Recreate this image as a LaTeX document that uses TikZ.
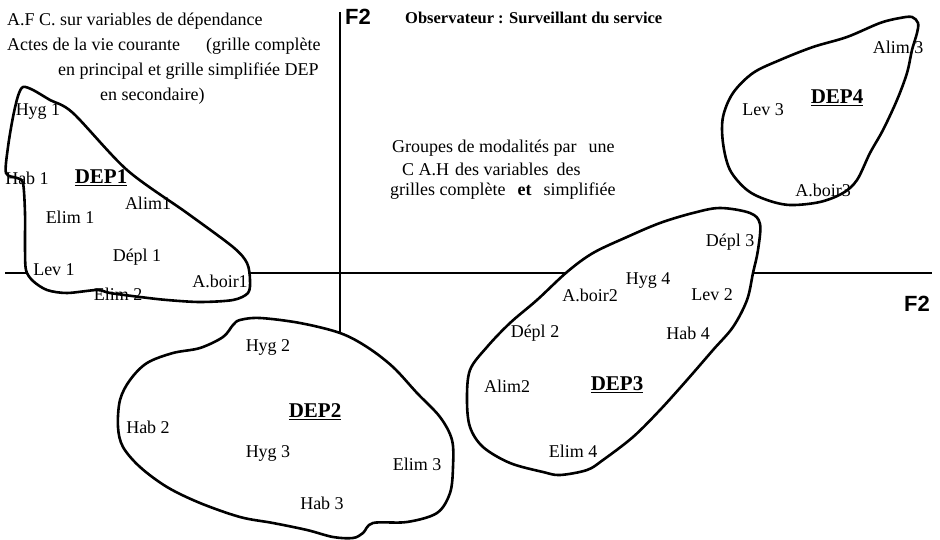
\documentclass[tikz,border=0pt]{standalone}
\usepackage{fontspec}
\setmainfont{Liberation Serif}
\newfontfamily\fsans{Liberation Sans}
\begin{document}
\begin{tikzpicture}[x=1pt,y=-1pt,
  lbl/.style={inner sep=0pt, font=\fontsize{18}{21}\selectfont},
  grp/.style={inner sep=0pt, font=\fontsize{21}{24}\selectfont\bfseries},
  txt/.style={inner sep=0pt, anchor=west, font=\fontsize{18}{21}\selectfont},
  ttl/.style={inner sep=0pt, anchor=west, font=\fontsize{16.5}{20}\selectfont\bfseries},
  axisline/.style={line width=1.6pt},
  blob/.style={line width=2.6pt, fill=white, line join=round},
  ftwo/.style={inner sep=0pt, font=\fsans\bfseries\fontsize{22}{24}\selectfont}]
\useasboundingbox (0,0) rectangle (940,540);

% axes
\coordinate (vtop) at (340,12);
\coordinate (vbot) at (340,334);
\coordinate (hleft) at (5,273);
\coordinate (hright) at (932,273);
\draw[axisline] (vtop) -- (vbot);
\draw[axisline] (hleft) -- (hright);

% DEP1 blob
\draw[blob] plot[smooth cycle, tension=0.5] coordinates {
 (23,87) (33,90) (50,100) (73,113) (127,170) (187,213) (233,247) (247,263)
 (250,280) (248,293) (233,300) (200,302) (167,300) (140,297) (110,293) (97,290)
 (67,293) (47,290) (33,281) (26,270) (25,247) (25,213) (23,183) (17,178)
 (6,173) (8,147) (13,117) (18,96)};

% DEP2 blob
\draw[blob] plot[smooth cycle, tension=0.55] coordinates {
 (240,320) (260,318) (300,323) (340,333) (367,347) (393,367) (417,393) (440,417)
 (452,440) (453,467) (450,493) (437,513) (407,522) (373,523) (363,533) (353,538)
 (333,537) (307,530) (273,523) (240,517) (200,503) (167,487) (140,467) (123,447)
 (118,427) (120,400) (130,380) (147,363) (173,353) (200,348) (223,337) (233,325)};

% DEP3 blob
\draw[blob] plot[smooth cycle, tension=0.55] coordinates {
 (720,208) (750,213) (760,224) (758,250) (753,273) (747,300) (733,327) (713,350)
 (687,380) (660,410) (633,437) (603,460) (587,470) (560,475) (543,472) (510,463)
 (483,447) (470,427) (467,400) (470,370) (487,347) (510,323) (537,300) (567,272)
 (593,253) (627,237) (660,223) (693,213)};

% DEP4 blob
\draw[blob] plot[smooth cycle, tension=0.55] coordinates {
 (912,17) (918,23) (917,33) (912,50) (907,73) (897,100) (883,130) (870,153)
 (857,180) (843,193) (820,202) (790,205) (767,200) (747,190) (730,170) (723,143)
 (723,117) (733,93) (753,73) (780,60) (813,47) (847,37) (880,23) (900,18)};

% titles
\node[txt] (t1) at (7,21) {A.F C. sur variables de dépendance};
\node[txt] (t2) at (7,46) {Actes de la vie courante\hspace*{26pt}(grille complète};
\node[txt] (t3) at (58,71) {en principal et grille simplifiée DEP};
\node[txt] (t4) at (100,96) {en secondaire)};
\node[ftwo, anchor=west] (f2top) at (345,17) {F2};
\node[ttl] (obs) at (405,18) {Observateur : Surveillant du service};
\node[ftwo] (f2right) at (917,304) {F2};

\node[txt] (g1) at (392,148) {Groupes de modalités par\hspace*{12pt}une};
\node[txt] (g2) at (402,169) {C A.H\hspace*{6pt}des variables\hspace*{8pt}des};
\node[txt] (g3) at (390,191) {grilles complète\hspace*{12pt}\textbf{et}\hspace*{12pt}simplifiée};

% DEP1 labels
\node[lbl] (hyg1) at (38,112) {Hyg 1};
\node[lbl] (hab1) at (27,178) {Hab 1};
\node[grp] (dep1) at (101,178) {\underline{DEP1}};
\node[lbl] (alim1) at (148,203) {Alim1};
\node[lbl] (elim1) at (70,217) {Elim 1};
\node[lbl] (depl1) at (137,257) {Dépl 1};
\node[lbl] (lev1) at (54,270) {Lev 1};
\node[lbl] (aboir1) at (220,281) {A.boir1};
\node[lbl] (elim2) at (118,294) {Elim 2};

% DEP2 labels
\node[lbl] (hyg2) at (268,347) {Hyg 2};
\node[grp] (dep2) at (315,412) {\underline{DEP2}};
\node[lbl] (hab2) at (148,427) {Hab 2};
\node[lbl] (hyg3) at (268,453) {Hyg 3};
\node[lbl] (elim3) at (417,464) {Elim 3};
\node[lbl] (hab3) at (322,503) {Hab 3};

% DEP3 labels
\node[lbl] (depl3) at (730,242) {Dépl 3};
\node[lbl] (hyg4) at (648,281) {Hyg 4};
\node[lbl] (aboir2) at (590,295) {A.boir2};
\node[lbl] (lev2) at (712,295) {Lev 2};
\node[lbl] (depl2) at (535,333) {Dépl 2};
\node[lbl] (hab4) at (688,333) {Hab 4};
\node[lbl] (alim2) at (507,386) {Alim2};
\node[grp] (dep3) at (617,385) {\underline{DEP3}};
\node[lbl] (elim4) at (573,451) {Elim 4};

% DEP4 labels
\node[lbl] (alim3) at (898,47) {Alim 3};
\node[grp] (dep4) at (837,98) {\underline{DEP4}};
\node[lbl] (lev3) at (763,110) {Lev 3};
\node[lbl] (aboir3) at (823,190) {A.boir3};
\end{tikzpicture}
\end{document}
